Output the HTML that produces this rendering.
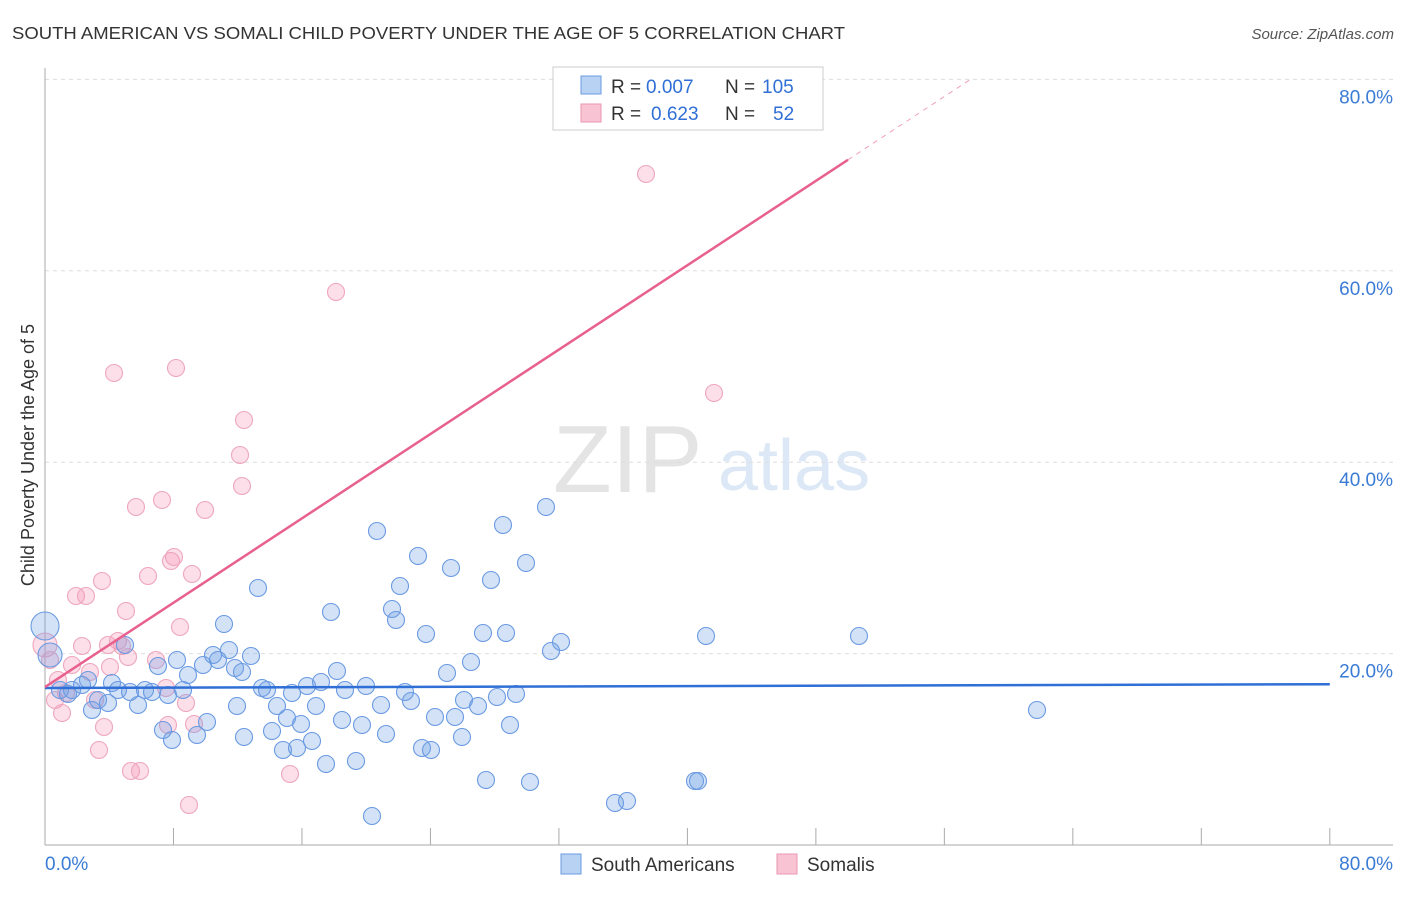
<!DOCTYPE html>
<html><head><meta charset="utf-8"><style>
body{margin:0;background:#fff;font-family:"Liberation Sans",sans-serif}
svg text{font-family:"Liberation Sans",sans-serif}
</style></head><body>
<svg id="chart" width="1406" height="892" xmlns="http://www.w3.org/2000/svg">
<text x="12" y="39" font-size="17.5" fill="#333" textLength="833" lengthAdjust="spacingAndGlyphs">SOUTH AMERICAN VS SOMALI CHILD POVERTY UNDER THE AGE OF 5 CORRELATION CHART</text>
<text x="1394" y="39" font-size="15" fill="#555" font-style="italic" text-anchor="end">Source: ZipAtlas.com</text>
<g>
<text x="553" y="492" font-size="96" fill="#e4e4e4" font-family="Liberation Serif">ZIP</text>
<text x="718" y="490" font-size="72" fill="#dce8f6">atlas</text>
</g>
<g id="grid"></g>
<g id="axes"></g>
<g id="pts"></g>
<g id="trends"></g>
<text x="-455" y="34" transform="rotate(-90)" font-size="18" fill="#333" text-anchor="middle">Child Poverty Under the Age of 5</text>
<g>
<rect x="553" y="67" width="270" height="63" fill="#fff" stroke="#ccc"/>
<rect x="581" y="76" width="20" height="18" fill="#b8d2f4" stroke="#6a9be0"/>
<rect x="581" y="104" width="20" height="18" fill="#f8c4d4" stroke="#eb96b2"/>
<text x="611" y="93" font-size="19" fill="#333">R =</text>
<text x="646" y="93" font-size="19" fill="#2f6fd6">0.007</text>
<text x="725" y="93" font-size="19" fill="#333">N =</text>
<text x="762" y="93" font-size="19" fill="#2f6fd6">105</text>
<text x="611" y="120" font-size="19" fill="#333">R =</text>
<text x="651" y="120" font-size="19" fill="#2f6fd6">0.623</text>
<text x="725" y="120" font-size="19" fill="#333">N =</text>
<text x="773" y="120" font-size="19" fill="#2f6fd6">52</text>
</g>
<g>
<rect x="561" y="854" width="20" height="20" fill="#b8d2f4" stroke="#6a9be0"/>
<text x="591" y="871" font-size="19" fill="#333">South Americans</text>
<rect x="777" y="854" width="20" height="20" fill="#f8c4d4" stroke="#eb96b2"/>
<text x="807" y="871" font-size="19" fill="#333">Somalis</text>
</g>
</svg>
<script>
const yTicks=[20,40,60,80];
const yTickLabels=["20.0%","40.0%","60.0%","80.0%"];
const xTicks=[0,10,20,30,40,50,60,70,80,90,100];
const blueX=[45,50,60,68,72,82,88,92,98,108,112,118,125,130,138,145,152,158,163,168,172,177,183,188,197,203,207,213,218,224,229,235,237,242,244,251,258,262,267,272,277,283,287,292,297,301,307,312,316,321,326,331,337,342,345,356,362,366,372,377,381,386,392,396,400,405,411,418,422,426,431,435,447,451,455,462,464,471,478,483,486,491,497,503,506,510,516,526,530,546,551,561,615,627,695,698,706,859,1037];
const blueY=[626,655,690,694,690,685,680,710,700,703,683,690,645,692,705,690,692,666,730,695,740,660,690,675,735,665,722,655,660,624,650,668,706,672,737,656,588,688,690,731,706,750,718,693,748,724,686,741,706,682,764,612,671,720,690,761,725,686,816,531,705,734,609,620,586,692,701,556,748,634,750,717,673,568,717,737,700,662,706,633,780,580,697,525,633,725,694,563,782,507,651,642,803,801,781,781,636,636,710];
const pinkX=[45,50,55,58,62,66,72,76,82,86,90,95,99,102,104,108,110,114,118,122,126,128,131,136,140,148,156,162,166,168,171,174,176,180,186,189,192,194,205,240,242,244,290,336,646,714];
const pinkY=[645,660,700,680,713,693,665,596,646,596,672,700,750,581,727,645,667,373,641,646,611,657,771,507,771,576,660,500,688,725,561,557,368,627,703,805,574,724,510,455,486,420,774,292,174,393];
const blueXv=blueX.map(p=>(p-45)/16.06), blueYv=blueY.map(p=>(845-p)/9.57);
const pinkXv=pinkX.map(p=>(p-45)/16.06), pinkYv=pinkY.map(p=>(845-p)/9.57);
const blueTrend=[16.4,16.8];
const pinkTrend=[16.5,71.6];
const X=v=>45+v*16.06, Y=v=>845-v*9.57;
const NS="http://www.w3.org/2000/svg";
function mk(tag,attrs,parent){const e=document.createElementNS(NS,tag);for(const k in attrs)e.setAttribute(k,attrs[k]);document.getElementById(parent).appendChild(e);return e;}
yTicks.forEach((t,i)=>{
 const l=mk('line',{x1:45,x2:1393,y1:Y(t),y2:Y(t),stroke:'#ddd','stroke-dasharray':'4,4'},'grid');
 
 
 const tx=mk('text',{x:1393,y:Y(t)+24,'font-size':19,fill:'#3a7bd5','text-anchor':'end'},'grid');
 tx.textContent=yTickLabels[i];
 
 
});
const ax=mk('line',{x1:45,x2:45,y1:68,y2:845,stroke:'#aaa'},'axes');


const bx=mk('line',{x1:45,x2:1393,y1:845,y2:845,stroke:'#aaa'},'axes');


xTicks.forEach(t=>{
 const l=mk('line',{x1:X(t*0.8),x2:X(t*0.8),y1:828,y2:845,stroke:'#aaa'},'axes');
 
 
});
const x0=mk('text',{x:45,y:870,'font-size':19,fill:'#3a7bd5'},'axes');x0.textContent='0.0%';


const x1=mk('text',{x:1393,y:870,'font-size':19,fill:'#3a7bd5','text-anchor':'end'},'axes');x1.textContent='80.0%';


pinkXv.forEach((v,i)=>{
 const c=mk('circle',{cx:X(v),cy:Y(pinkYv[i]),r:i==0?12:8.5,fill:'rgba(244,150,180,0.3)',stroke:'#eea6bd','stroke-width':1.1},'pts');
 
 
});
blueXv.forEach((v,i)=>{
 const c=mk('circle',{cx:X(v),cy:Y(blueYv[i]),r:i==0?14:(i==1?12:8.5),fill:'rgba(110,160,230,0.3)',stroke:'#6a9ae2','stroke-width':1.1},'pts');
 
 
});
const bt=mk('line',{x1:X(0),y1:Y(blueTrend[0]),x2:X(80),y2:Y(blueTrend[1]),stroke:'#2f6fd6','stroke-width':2.5},'trends');


const slope=(pinkTrend[1]-pinkTrend[0])/50;
const pt=mk('line',{x1:X(0),y1:Y(pinkTrend[0]),x2:X(50),y2:Y(pinkTrend[1]),stroke:'#e8608e','stroke-width':2.5},'trends');


const xe=(80-pinkTrend[0])/slope;
const pd=mk('line',{x1:X(50),y1:Y(pinkTrend[1]),x2:X(xe),y2:Y(80),stroke:'#f0a0bc','stroke-width':1,'stroke-dasharray':'5,5'},'trends');


</script>
</body></html>
